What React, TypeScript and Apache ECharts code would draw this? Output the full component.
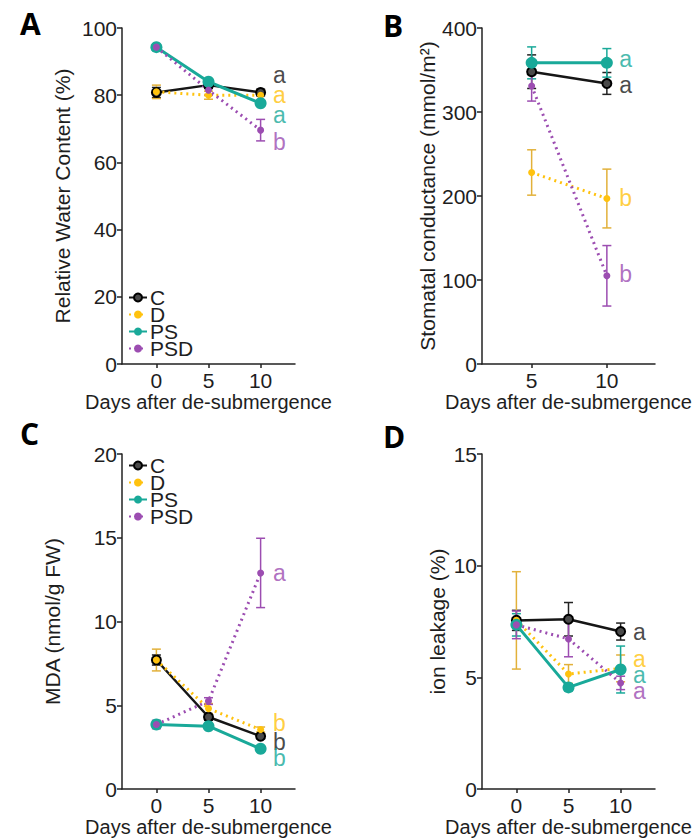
import React, { useEffect, useRef } from "react";
import * as echarts from "echarts";

// ---------- data ----------
const groups = ["C", "D", "PS", "PSD"];
const daysACD = [0, 5, 10];
const daysB = [5, 10];
const xTicksACD = [0, 5, 10];
const xTicksB = [5, 10];

// A: Relative water content (%)
const rwcC = [80.8, 83.0, 80.8];
const rwcD = [81.0, 80.0, 80.0];
const rwcPS = [94.3, 84.0, 77.6];
const rwcPSD = [94.3, 81.5, 69.6];
const rwcErrC = [1.5, 1.0, 1.0];
const rwcErrD = [2.0, 1.2, 1.5];
const rwcErrPS = [0.8, 0.8, 0.8];
const rwcErrPSD = [0.8, 1.5, 3.2];
const rwcLetters = ["a", "a", "a", "b"];
const rwcLetterY = [86, 80, 74, 66];

// B: Stomatal conductance (mmol/m2)
const gsC = [348, 334];
const gsD = [228, 197];
const gsPS = [358.5, 358.5];
const gsPSD = [331, 105];
const gsErrC = [20, 13];
const gsErrD = [27, 35];
const gsErrPS = [19, 17];
const gsErrPSD = [18, 36];
const gsLetters = ["a", "b", "a", "b"];
const gsLetterY = [332, 198, 363, 107];

// C: MDA (nmol/g FW)
const mdaC = [7.7, 4.3, 3.15];
const mdaD = [7.7, 4.8, 3.55];
const mdaPS = [3.85, 3.75, 2.4];
const mdaPSD = [3.85, 5.25, 12.9];
const mdaErrC = [0.3, 0.2, 0.15];
const mdaErrD = [0.65, 0.3, 0.15];
const mdaErrPS = [0.15, 0.1, 0.1];
const mdaErrPSD = [0.25, 0.2, 2.07];
const mdaLetters = ["b", "b", "b", "a"];
const mdaLetterY = [2.8, 3.95, 1.85, 12.9];

// D: Ion leakage (%)
const ilC = [7.55, 7.6, 7.05];
const ilD = [7.55, 5.15, 5.4];
const ilPS = [7.35, 4.55, 5.35];
const ilPSD = [7.35, 6.72, 4.75];
const ilErrC = [0.45, 0.75, 0.38];
const ilErrD = [2.18, 0.42, 0.6];
const ilErrPS = [0.5, 0.15, 1.05];
const ilErrPSD = [0.62, 0.8, 0.3];
const ilLetters = ["a", "a", "a", "a"];
const ilLetterY = [7.05, 5.8, 5.1, 4.4];

// ---------- styles ----------
const FONT = "'Liberation Sans', Arial, sans-serif";
const TXT = "#1e1e1e";
const colors: Record<string, string> = {
  C: "#161616",
  D: "#FFC20E",
  PS: "#19A999",
  PSD: "#9C4DB1",
};
const errColors: Record<string, string> = {
  C: "#222222",
  D: "#E2B13A",
  PS: "#19A999",
  PSD: "#9C4DB1",
};

function lineSeries(g: string, xs: number[], ys: number[], gi: number) {
  const base: any = {
    type: "line",
    name: g,
    xAxisIndex: gi,
    yAxisIndex: gi,
    data: xs.map((x, i) => [x, ys[i]]),
    symbol: "circle",
    z: 3,
    animation: false,
  };
  if (g === "C") {
    base.symbolSize = 9;
    base.lineStyle = { color: colors.C, width: 2.5, type: "solid" };
    base.itemStyle = { color: "#4a4a4a", borderColor: "#000", borderWidth: 2 };
  } else if (g === "D") {
    base.symbolSize = 7;
    base.lineStyle = { color: colors.D, width: 3, type: [2, 4] };
    base.itemStyle = { color: colors.D };
  } else if (g === "PS") {
    base.symbolSize = 12;
    base.lineStyle = { color: colors.PS, width: 3, type: "solid" };
    base.itemStyle = { color: colors.PS };
  } else {
    base.symbolSize = 7;
    base.lineStyle = { color: colors.PSD, width: 3, type: [2, 4] };
    base.itemStyle = { color: colors.PSD };
  }
  return base;
}

function errSeries(g: string, xs: number[], ys: number[], es: number[], gi: number) {
  const col = errColors[g];
  return {
    type: "custom",
    name: g + " err",
    xAxisIndex: gi,
    yAxisIndex: gi,
    z: 2,
    data: xs.map((x, i) => [x, ys[i] - es[i], ys[i] + es[i]]),
    encode: { x: 0, y: [1, 2] },
    renderItem: (_p: any, api: any) => {
      const x = api.value(0);
      const lo = api.coord([x, api.value(1)]);
      const hi = api.coord([x, api.value(2)]);
      const w = 4.5;
      const st = { stroke: col, lineWidth: 1.5 };
      return {
        type: "group",
        children: [
          { type: "line", shape: { x1: lo[0], y1: lo[1], x2: hi[0], y2: hi[1] }, style: st },
          { type: "line", shape: { x1: lo[0] - w, y1: lo[1], x2: lo[0] + w, y2: lo[1] }, style: st },
          { type: "line", shape: { x1: hi[0] - w, y1: hi[1], x2: hi[0] + w, y2: hi[1] }, style: st },
        ],
      };
    },
  };
}

function letterSeries(letters: string[], ys: number[], x: number, gi: number) {
  return {
    type: "scatter",
    name: "letters" + gi,
    xAxisIndex: gi,
    yAxisIndex: gi,
    symbolSize: 1,
    itemStyle: { color: "transparent" },
    z: 5,
    data: groups.map((g, i) => ({
      value: [x, ys[i]],
      name: letters[i],
      label: { color: colors[g] === "#161616" ? "#1a1a1a" : colors[g] },
    })),
    label: {
      show: true,
      position: "right",
      distance: 12,
      formatter: "{b}",
      fontSize: 23,
      lineHeight: 14,
      fontFamily: FONT,
    },
  };
}

function panelSeries(
  gi: number,
  xs: number[],
  vals: number[][],
  errs: number[][],
  letters: string[],
  letterY: number[]
) {
  const out: any[] = [];
  groups.forEach((g, i) => out.push(errSeries(g, xs, vals[i], errs[i], gi)));
  groups.forEach((g, i) => out.push(lineSeries(g, xs, vals[i], gi)));
  out.push(letterSeries(letters, letterY, xs[xs.length - 1], gi));
  return out;
}

function xAxis(gi: number, min: number, max: number, ticks: number[]) {
  return {
    type: "value",
    gridIndex: gi,
    min,
    max,
    axisLine: { show: true, onZero: false, lineStyle: { color: "#222", width: 1.5 } },
    axisTick: { show: true, length: 4, customValues: ticks, lineStyle: { color: "#222", width: 1.5 } },
    axisLabel: { customValues: ticks, fontSize: 21, color: TXT, fontFamily: FONT, margin: 6 },
    splitLine: { show: false },
    name: "Days after de-submergence",
    nameLocation: "middle",
    nameGap: 28,
    nameTextStyle: { fontSize: 20, color: TXT, fontFamily: FONT },
  };
}

function yAxis(gi: number, max: number, interval: number, name: string, gap: number) {
  return {
    type: "value",
    gridIndex: gi,
    min: 0,
    max,
    interval,
    axisLine: { show: true, onZero: false, lineStyle: { color: "#222", width: 1.5 } },
    axisTick: { show: true, length: 5, lineStyle: { color: "#222", width: 1.5 } },
    axisLabel: { fontSize: 21, color: TXT, fontFamily: FONT, margin: 5 },
    splitLine: { show: false },
    name,
    nameLocation: "middle",
    nameGap: gap,
    nameTextStyle: { fontSize: 21, color: TXT, fontFamily: FONT },
  };
}

function legend(left: number, top: number) {
  return {
    data: groups,
    orient: "vertical",
    left,
    top,
    padding: 0,
    itemGap: -4,
    itemWidth: 18,
    itemHeight: 10,
    selectedMode: false,
    textStyle: { fontSize: 21, color: TXT, fontFamily: FONT, lineHeight: 18, padding: [0, 0, 0, -2] },
  };
}

function panelLabel(text: string, left: number, top: number) {
  return {
    type: "text",
    left,
    top,
    style: { text, fontSize: 30, fontWeight: "bold", fontFamily: "'Open Sans', 'Liberation Sans', sans-serif", fill: "#000" },
  };
}

export default function App() {
  const ref = useRef<HTMLDivElement>(null);
  useEffect(() => {
    if (!ref.current) return;
    const chart = echarts.init(ref.current, null, { renderer: "svg" });
    const grids = [
      { left: 122, top: 28, width: 173, height: 336 },
      { left: 482, top: 28, width: 173, height: 336 },
      { left: 122, top: 454, width: 173, height: 335 },
      { left: 482, top: 454, width: 173, height: 335 },
    ].map((g) => ({ ...g, containLabel: false, outerBoundsMode: "none" }));

    const option: any = {
      animation: false,
      backgroundColor: "#fff",
      textStyle: { fontFamily: FONT },
      grid: grids,
      legend: [legend(128, 287), legend(128, 455)],
      xAxis: [
        xAxis(0, -3.3, 13.3, xTicksACD),
        xAxis(1, 1.7, 13.2, xTicksB),
        xAxis(2, -3.3, 13.3, xTicksACD),
        xAxis(3, -3.3, 13.3, xTicksACD),
      ],
      yAxis: [
        yAxis(0, 100, 20, "Relative Water Content (%)", 49),
        yAxis(1, 400, 100, "Stomatal conductance (mmol/m²)", 44),
        yAxis(2, 20, 5, "MDA (nmol/g FW)", 59),
        yAxis(3, 15, 5, "ion leakage (%)", 34),
      ],
      series: [
        ...panelSeries(0, daysACD, [rwcC, rwcD, rwcPS, rwcPSD], [rwcErrC, rwcErrD, rwcErrPS, rwcErrPSD], rwcLetters, rwcLetterY),
        ...panelSeries(1, daysB, [gsC, gsD, gsPS, gsPSD], [gsErrC, gsErrD, gsErrPS, gsErrPSD], gsLetters, gsLetterY),
        ...panelSeries(2, daysACD, [mdaC, mdaD, mdaPS, mdaPSD], [mdaErrC, mdaErrD, mdaErrPS, mdaErrPSD], mdaLetters, mdaLetterY),
        ...panelSeries(3, daysACD, [ilC, ilD, ilPS, ilPSD], [ilErrC, ilErrD, ilErrPS, ilErrPSD], ilLetters, ilLetterY),
      ],
      graphic: [
        panelLabel("A", 20, 8),
        panelLabel("B", 383, 10),
        panelLabel("C", 20, 418),
        panelLabel("D", 383, 421),
      ],
    };
    chart.setOption(option);
    return () => chart.dispose();
  }, []);
  return (
    <div
      ref={ref}
      style={{ position: "absolute", left: 0, top: 0, width: 699, height: 838, background: "#fff" }}
    />
  );
}
